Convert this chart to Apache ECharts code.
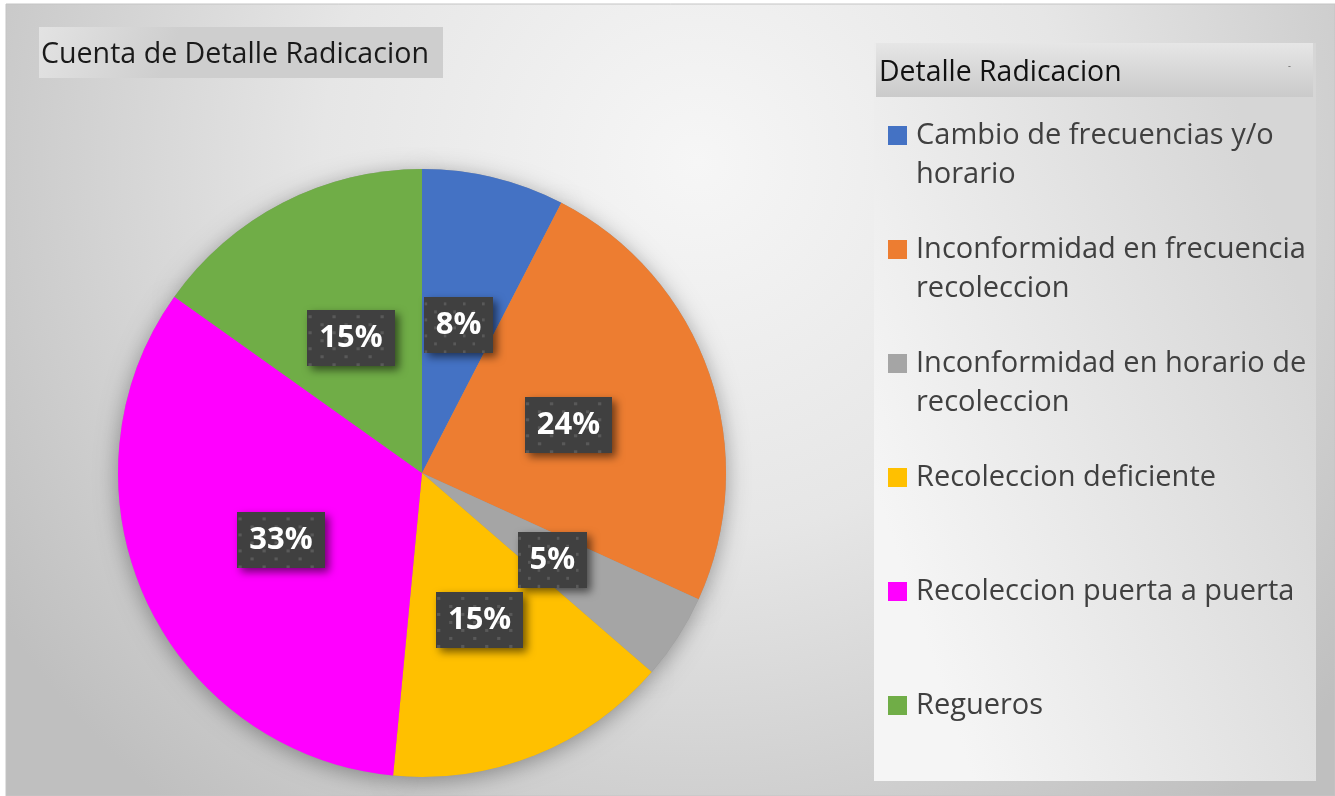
<!DOCTYPE html>
<html>
<head>
<meta charset="utf-8">
<script src="https://cdn.jsdelivr.net/npm/echarts@6/dist/echarts.min.js"></script>
<style>
    html, body { margin: 0; padding: 0; background: #fff; }
    #pie_radicacion { width: 1335px; height: 796px; }
</style>
</head>
<body>
<div id="pie_radicacion"></div>
<script>
// Data
var categories = [
    'Cambio de frecuencias y/o horario',
    'Inconformidad en frecuencia recoleccion',
    'Inconformidad en horario de recoleccion',
    'Recoleccion deficiente',
    'Recoleccion puerta a puerta',
    'Regueros'
];
var counts = [5, 16, 3, 10, 22, 10];
var sliceColors = ['#4472C4', '#ED7D31', '#A5A5A5', '#FFC000', '#FF00FF', '#70AD47'];
var legendLines = [
    ['Cambio de frecuencias y/o', 'horario'],
    ['Inconformidad en frecuencia', 'recoleccion'],
    ['Inconformidad en horario de', 'recoleccion'],
    ['Recoleccion deficiente', ' '],
    ['Recoleccion puerta a puerta', ' '],
    ['Regueros', ' ']
];

var FONT = '"Open Sans", "Noto Sans", sans-serif';

// Dotted dark fill for the data labels
function makeDotTile(w, h) {
    var c = document.createElement('canvas');
    c.width = w; c.height = h;
    var ctx = c.getContext('2d');
    ctx.fillStyle = '#404040';
    ctx.fillRect(0, 0, w, h);
    ctx.fillStyle = '#595959';
    for (var row = 0, y = 5; y < h - 2; row++, y += 8) {
        for (var x = (row % 2 ? 12 : 1); x < w - 2; x += 22) {
            ctx.fillRect(x, y, 3, 3);
        }
    }
    return c;
}
var dotTile = makeDotTile(80, 56);

// Legend rich styles (one colour box per category)
var legendRich = {
    g: { width: 9 },
    s: { width: 19 },
    t: { fontSize: 29, lineHeight: 39, color: '#404040', fontFamily: FONT }
};
sliceColors.forEach(function (c, i) {
    legendRich['m' + i] = { width: 19, height: 19, backgroundColor: c };
});

var pieData = categories.map(function (name, i) {
    return { name: name, value: counts[i], itemStyle: { color: sliceColors[i] } };
});

var chart = echarts.init(document.getElementById('pie_radicacion'));

chart.setOption({
    backgroundColor: '#ffffff',
    animation: false,
    textStyle: { fontFamily: FONT },

    graphic: [
        {
            type: 'rect', z: -10, silent: true,
            shape: { x: 6, y: 4, width: 1329, height: 792 },
            style: {
                fill: {
                    type: 'radial', x: 0.52, y: 0.2, r: 1.05,
                    colorStops: [
                        { offset: 0, color: '#f6f6f6' },
                        { offset: 0.45, color: '#e6e6e6' },
                        { offset: 1, color: '#bfbfbf' }
                    ]
                },
                stroke: '#c4c4c4', lineWidth: 1
            }
        },
        {
            type: 'rect', z: -9, silent: true,
            shape: { x: 39, y: 27, width: 404, height: 51 },
            style: {
                fill: {
                    type: 'linear', x: 0, y: 0, x2: 0.3, y2: 1,
                    colorStops: [
                        { offset: 0, color: '#e3e3e3' },
                        { offset: 1, color: '#cecece' }
                    ]
                }
            }
        },
        {
            type: 'rect', z: -9, silent: true,
            shape: { x: 874, y: 43, width: 442, height: 738 },
            style: {
                fill: {
                    type: 'linear', x: 0, y: 0.6, x2: 1, y2: 0.4,
                    colorStops: [
                        { offset: 0, color: '#f5f5f5' },
                        { offset: 1, color: '#d6d6d6' }
                    ]
                }
            }
        },
        {
            type: 'rect', z: -8, silent: true,
            shape: { x: 876, y: 43, width: 437, height: 54 },
            style: {
                fill: {
                    type: 'linear', x: 0, y: 0, x2: 0, y2: 1,
                    colorStops: [
                        { offset: 0, color: '#e6e6e6' },
                        { offset: 1, color: '#cacaca' }
                    ]
                }
            }
        },
        {
            type: 'text', z: -7, silent: true,
            left: 1288, top: 62,
            style: { text: '-', fontSize: 9, fill: '#555', fontFamily: FONT }
        }
    ],

    title: [
        {
            text: 'Cuenta de Detalle Radicacion',
            left: 41, top: 37, padding: 0,
            textStyle: { fontSize: 28.6, lineHeight: 36, fontWeight: 'normal', color: '#1a1a1a', fontFamily: FONT }
        },
        {
            text: 'Detalle Radicacion',
            left: 879, top: 55, padding: 0,
            textStyle: { fontSize: 28.4, lineHeight: 36, fontWeight: 'normal', color: '#111', fontFamily: FONT }
        }
    ],

    legend: {
        orient: 'vertical',
        left: 883, top: 121,
        padding: 0,
        icon: 'none',
        itemWidth: 0, itemHeight: 0,
        itemGap: 46,
        selectedMode: false,
        data: categories,
        formatter: function (name) {
            var i = categories.indexOf(name);
            var l = legendLines[i];
            return '{m' + i + '|}{g|}{t|' + l[0] + '}\n{s|}{g|}{t|' + l[1] + '}';
        },
        textStyle: { rich: legendRich }
    },

    series: [
        {
            // soft shadow under the pie
            type: 'pie', silent: true, z: 1,
            center: [422, 473], radius: 304, startAngle: 90,
            label: { show: false }, labelLine: { show: false },
            itemStyle: { color: '#999', shadowBlur: 22, shadowColor: 'rgba(0,0,0,0.35)', shadowOffsetY: 4 },
            data: counts
        },
        {
            name: 'Detalle Radicacion',
            type: 'pie', z: 2,
            center: [422, 473], radius: 304, startAngle: 90,
            clockwise: true,
            emphasis: { disabled: true },
            labelLine: { show: false },
            label: {
                show: true,
                position: 'inside',
                offset: [0, 3],
                formatter: function (p) { return Math.round(p.percent) + '%'; },
                color: '#fff',
                fontFamily: FONT,
                fontWeight: 'bold',
                fontSize: 31,
                padding: [13, 12, 12, 12],
                backgroundColor: { image: dotTile },
                shadowColor: 'rgba(0,0,0,0.55)',
                shadowBlur: 8,
                shadowOffsetX: 4,
                shadowOffsetY: 4
            },
            data: pieData
        }
    ]
});
</script>
</body>
</html>
